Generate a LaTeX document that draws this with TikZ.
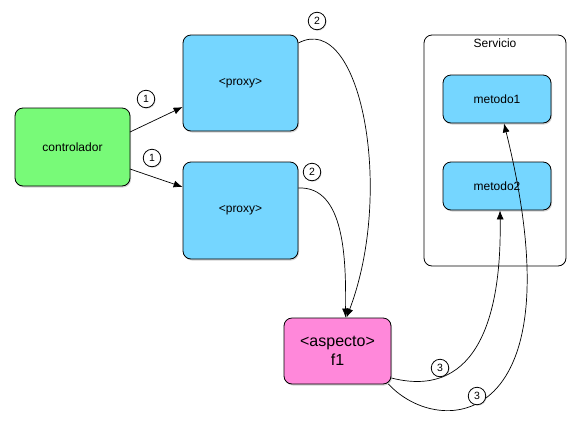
\documentclass[tikz,border=0pt]{standalone}
\usepackage{fontspec}
\setmainfont{Liberation Sans}
\usetikzlibrary{shadows, arrows.meta}
\definecolor{verde}{RGB}{120,250,120}
\definecolor{celeste}{RGB}{117,214,255}
\definecolor{rosa}{RGB}{255,136,218}
\tikzset{
    caja/.style = {draw, rounded corners = 8pt, line width = 0.8pt, font = \fontsize{12}{14}\selectfont,
        drop shadow = {shadow xshift = 1pt, shadow yshift = -1.5pt, opacity = 0.35}},
    paso/.style = {draw, circle, fill = white, inner sep = 0pt, minimum size = 17.5pt, line width = 0.8pt,
        font = \fontsize{10.5}{10.5}\selectfont,
        drop shadow = {shadow xshift = 0.8pt, shadow yshift = -1pt, opacity = 0.3}},
    flecha/.style = {-{Latex[length = 9pt, width = 7pt]}, line width = 0.7pt}
}
\begin{document}
\begin{tikzpicture}[x = 1pt, y = -1pt]
    \useasboundingbox (0,0) rectangle (581,421);
    %cajas
    \node[caja, fill = verde, minimum width = 115pt, minimum height = 78pt] (controlador) at (72.5,147) {controlador};
    \node[caja, fill = celeste, minimum width = 115pt, minimum height = 96pt] (proxyA) at (240.5,83) {<proxy>};
    \node[caja, fill = celeste, minimum width = 115pt, minimum height = 97pt] (proxyB) at (240.5,210.5) {<proxy>};
    \node[draw, rounded corners = 8pt, line width = 0.8pt, fill = white, minimum width = 142pt, minimum height = 231pt] (servicio) at (495,150.5) {};
    \node[font = \fontsize{12}{14}\selectfont, below = 1pt] (servtxt) at (servicio.north) {Servicio};
    \node[caja, fill = celeste, minimum width = 108pt, minimum height = 48pt] (metodoA) at (497,99) {metodo1};
    \node[caja, fill = celeste, minimum width = 108pt, minimum height = 48pt] (metodoB) at (497,186) {metodo2};
    \node[caja, fill = rosa, minimum width = 107pt, minimum height = 66pt, align = center,
        font = \fontsize{16}{19}\selectfont] (aspecto) at (337.5,351) {<aspecto>\\f1};
    %flechas
    \coordinate (pA) at (proxyA.east |- 0,43);
    \coordinate (pB) at (proxyB.east |- 0,188);
    \coordinate (aA) at (aspecto.east |- 0,378);
    \coordinate (aB) at ([xshift=-3pt]aspecto.east |- 0,384);
    \draw[flecha] (130,132) -- (proxyA.west |- 0,107);
    \draw[flecha] (130,169) -- (proxyB.west |- 0,187);
    \draw[flecha] (pA) .. controls (360,10) and (395,190) .. ([xshift=9pt]aspecto.north);
    \draw[flecha] (pB) .. controls (345,186) and (346,260) .. ([xshift=8pt]aspecto.north);
    \draw[flecha] (aA) .. controls (470,398) and (502,330) .. ([xshift=3pt]metodoB.south);
    \draw[flecha] (aB) .. controls (440,440) and (580,430) .. ([xshift=7pt]metodoA.south);
    %numeros
    \node[paso] (n1a) at (146,99) {1};
    \node[paso] (n1b) at (152,158) {1};
    \node[paso] (n2a) at (317,21) {2};
    \node[paso] (n2b) at (312,172) {2};
    \node[paso] (n3a) at (440,368) {3};
    \node[paso] (n3b) at (477,396) {3};
\end{tikzpicture}
\end{document}
